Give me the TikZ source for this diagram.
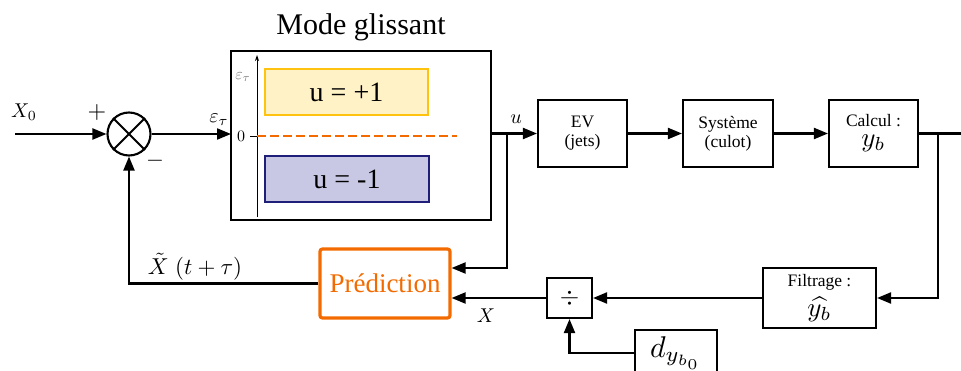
\documentclass[tikz,border=0pt]{standalone}
\usepackage{fontspec}
\setmainfont{Liberation Serif}
\usetikzlibrary{arrows.meta}
\definecolor{orng}{HTML}{F26A00}
\definecolor{ylwfill}{HTML}{FFF2C6}
\definecolor{ylwdraw}{HTML}{FFC20E}
\definecolor{bluefill}{HTML}{C8C8E4}
\definecolor{bluedraw}{HTML}{1F1F7A}
\newcommand{\mbig}[2]{\scalebox{#1}{\fontsize{10}{12}\selectfont$#2$}}
\begin{document}
\begin{tikzpicture}[x=1pt,y=-1pt,line width=2.1pt,
  >={Triangle[length=14pt,width=11pt]},
  blk/.style={draw,line width=2.1pt,inner sep=0pt,align=center,font=\fontsize{17.5}{19}\selectfont},
  lbl/.style={inner sep=0pt}]
\useasboundingbox (0,0) rectangle (961,371);
% mode glissant
\node[draw,line width=2.3pt,minimum width=260,minimum height=169,inner sep=0pt] (mg) at (361,135.5) {};
\node[lbl] (title) at (361,27) {\fontsize{30}{32}\selectfont Mode glissant};
\node[draw=ylwdraw,fill=ylwfill,line width=1.8pt,minimum width=163,minimum height=46,inner sep=0pt] (up) at (346.5,92) {\fontsize{28}{30}\selectfont u = +1};
\node[draw=bluedraw,fill=bluefill,line width=1.8pt,minimum width=164,minimum height=46,inner sep=0pt] (dn) at (347,179) {\fontsize{28}{30}\selectfont u = -1};
\coordinate (axb) at (257,217);
\coordinate (axt) at (257,55);
\draw[line width=0.9pt,-{Stealth[length=6pt,width=4pt]}] (axb) -- (axt);
\node[lbl,text=gray] (epsax) at (243,77) {\mbig{1.6}{\varepsilon_\tau}};
\node[lbl] (zero) at (241,136) {\mbig{1.6}{0}};
\coordinate (da) at (250,136);
\coordinate (db) at (257,136);
\coordinate (dc) at (457,136);
\draw[line width=0.9pt] (da) -- (db);
\draw[orng,line width=1.3pt,dash pattern=on 9pt off 4pt] (db) -- (dc);
% summer
\node[draw,circle,minimum size=43,inner sep=0pt,line width=2.1pt] (sum) at (129,134) {};
\draw (sum.north west) -- (sum.south east);
\draw (sum.north east) -- (sum.south west);
\coordinate (in) at (15,134);
\draw[->] (in) -- (sum.west);
\node[lbl] (x0) at (24,112) {\mbig{2}{X_0}};
\node[lbl] (plus) at (97,113) {\mbig{2.4}{+}};
\node[lbl] (minus) at (155,161) {\mbig{2.3}{-}};
\coordinate (mgin) at (231,134);
\draw[->] (sum.east) -- (mgin);
\node[lbl] (eps) at (219,120) {\mbig{2}{\varepsilon_\tau}};
% forward chain
\node[blk,minimum width=89,minimum height=67] (ev) at (582.5,133.5) {EV\\(jets)};
\node[blk,minimum width=90,minimum height=67] (sys) at (728,133.5) {Système\\(culot)};
\node[blk,minimum width=89,minimum height=67] (calc) at (873.5,133.5) {Calcul :\\[1pt]\mbig{2.7}{y_b}};
\coordinate (uo) at (491,133.5);
\draw[->] (uo) -- (ev.west);
\node[lbl] (ulbl) at (516,119) {\mbig{2}{u}};
\draw[->] (ev.east) -- (sys.west);
\draw[->] (sys.east) -- (calc.west);
\coordinate (outr) at (975,133.5);
\draw[->] (calc.east) -- (outr);
% feedback
\node[draw=orng,line width=3.2pt,rounded corners=2.5pt,minimum width=130,minimum height=69,inner sep=0pt,text=orng] (pred) at (385,283.5) {\fontsize{27}{29}\selectfont Prédiction};
\node[blk,minimum width=113,minimum height=60] (filt) at (819.5,298) {Filtrage :\\[6pt]\mbig{2.7}{\widehat{y_b}}};
\node[blk,minimum width=45,minimum height=40] (div) at (569.5,298) {\mbig{2.5}{\div}};
\node[blk,minimum width=82,minimum height=46] (dbox) at (676,353) {\mbig{3}{d_{y_{b_0}}}};
\coordinate (bu) at (507,133.5);
\draw[->] (bu) |- ([yshift=15.5pt]pred.east);
\coordinate (by) at (938,133.5);
\draw[->] (by) |- (filt.east);
\draw[->] (filt.west) -- (div.east);
\draw[->] (div.west) -- ([yshift=-14.5pt]pred.east);
\node[lbl] (xlbl) at (486,316) {\mbig{2}{X}};
\draw[->] (dbox.west) -| (div.south);
\draw[->] (pred.west) -| (sum.south);
\node[lbl] (xt) at (195,267) {\mbig{2.3}{\tilde{X}\;(t+\tau)}};
\end{tikzpicture}
\end{document}
